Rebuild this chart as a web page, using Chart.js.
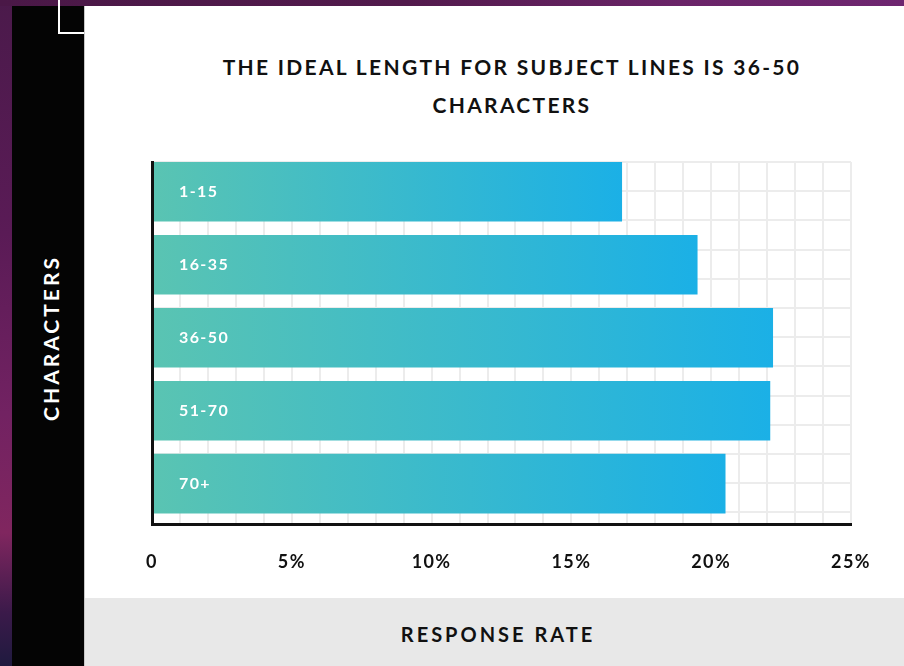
<!DOCTYPE html>
<html>
<head>
<meta charset="utf-8">
<title>Subject line length vs response rate</title>
<script src="https://cdn.jsdelivr.net/npm/chart.js@4.4.1/dist/chart.umd.min.js"></script>
<style>
  html, body { margin: 0; padding: 0; }
  body {
    width: 904px; height: 666px; overflow: hidden; position: relative;
    background: linear-gradient(180deg, #4b1a4b 0%, #5a1b56 35%, #722262 62%, #80265f 80%, #3b1a4a 92%, #1f1a3f 100%);
    font-family: Lato, "Noto Sans", sans-serif;
  }
  #topband {
    position: absolute; left: 0; top: 0; width: 904px; height: 6px;
    background: linear-gradient(90deg, #4a1847 0%, #521a4c 45%, #6a2468 75%, #6e2670 100%);
  }
  #strip { position: absolute; left: 12px; top: 6px; width: 72px; height: 660px; background: #040404; }
  #corner {
    position: absolute; left: 58px; top: -10px; width: 24px; height: 42px;
    border-left: 2px solid #fff; border-bottom: 2px solid #fff;
  }
  #card {
    position: absolute; left: 84px; top: 6px; width: 820px; height: 592px;
    background: #fff; border-left: 1px solid #c8c8c8; box-sizing: border-box;
  }
  #band {
    position: absolute; left: 84px; top: 598px; width: 820px; height: 68px;
    background: #e8e8e8; border-left: 1px solid #c8c8c8; box-sizing: border-box;
  }
  #title {
    position: absolute; left: 212px; top: 48px; width: 600px;
    text-align: center; font-weight: 700; font-size: 21px; line-height: 38px;
    letter-spacing: 2.3px; color: #111;
  }
  #ytitle {
    position: absolute; left: 49.5px; top: 338px;
    transform: translate(-50%, -50%) rotate(-90deg);
    white-space: nowrap; color: #fff; font-weight: 700; font-size: 21px;
    letter-spacing: 3px; line-height: 1;
  }
  #xtitle {
    position: absolute; left: 498px; top: 634px;
    transform: translate(-50%, -50%);
    white-space: nowrap; color: #111; font-weight: 700; font-size: 20px;
    letter-spacing: 3px; line-height: 1;
  }
  #chart { position: absolute; left: 0; top: 0; }
</style>
</head>
<body>
<div id="topband"></div>
<div id="strip"></div>
<div id="corner"></div>
<div id="card"></div>
<div id="band"></div>
<div id="title">THE IDEAL LENGTH FOR SUBJECT LINES IS 36-50<br>CHARACTERS</div>
<div id="ytitle">CHARACTERS</div>
<div id="xtitle">RESPONSE RATE</div>
<canvas id="chart" width="904" height="666"></canvas>
<script>
// Subject line length buckets and their response rates (%)
const categories = ['1-15', '16-35', '36-50', '51-70', '70+'];
const responseRates = [16.8, 19.5, 22.2, 22.1, 20.5];
// Percent values that carry a label on the response-rate axis
const labeledRates = [0, 5, 10, 15, 20, 25];

const barStart = '#5ac4b2';
const barEnd = '#1bb0e6';

// canvas text tracking, to echo the wide-set typeface
const tracking = {
  id: 'tracking',
  beforeDraw(chart) { chart.ctx.letterSpacing = '1.4px'; },
  afterDraw(chart) { chart.ctx.letterSpacing = '0px'; }
};

new Chart(document.getElementById('chart'), {
  type: 'bar',
  data: {
    datasets: [{
      label: 'Response rate',
      data: responseRates.map((v, i) => ({ x: v, y: i })),
      barThickness: 59,
      borderWidth: 0,
      backgroundColor(ctx) {
        const chart = ctx.chart;
        if (!chart.chartArea || !ctx.parsed) return barEnd;
        const xs = chart.scales.x;
        const x0 = xs.getPixelForValue(0);
        const x1 = xs.getPixelForValue(ctx.parsed.x);
        const g = chart.ctx.createLinearGradient(x0, 0, x1, 0);
        g.addColorStop(0, barStart);
        g.addColorStop(1, barEnd);
        return g;
      }
    }]
  },
  options: {
    indexAxis: 'y',
    responsive: false,
    animation: false,
    layout: { padding: { left: 152, right: 53, top: 162, bottom: 82 } },
    plugins: {
      legend: { display: false },
      tooltip: { enabled: false },
      title: { display: false }
    },
    scales: {
      x: {
        type: 'linear',
        min: 0,
        max: 25,
        afterFit(scale) { scale.height = 60; },
        grid: { color: '#ececec', lineWidth: 2, drawTicks: false },
        border: { display: true, color: '#111', width: 3, z: 1 },
        ticks: {
          stepSize: 1,
          autoSkip: false,
          maxRotation: 0,
          padding: 27,
          color: '#111',
          font: { family: 'Lato', weight: '700', size: 18 },
          callback: v => labeledRates.includes(v) ? (v === 0 ? '0' : v + '%') : ''
        }
      },
      y: {
        type: 'linear',
        position: 'left',
        reverse: true,
        offset: false,
        bounds: 'data',
        min: -0.407,
        max: 4.552,
        afterFit(scale) { scale.width = 0; },
        // one tick per length bucket, labelled inside its bar
        afterBuildTicks(scale) { scale.ticks = categories.map((_, i) => ({ value: i })); },
        grid: { display: false, offset: false },
        border: { display: true, color: '#111', width: 3, z: 1 },
        ticks: {
          autoSkip: false,
          mirror: true,
          padding: 27,
          z: 1,
          color: '#fff',
          font: { family: 'Lato', weight: '700', size: 16 },
          callback: v => categories[Math.round(v)] ?? ''
        }
      },
      yGrid: {
        type: 'linear',
        position: 'left',
        reverse: true,
        offset: false,
        bounds: 'data',
        min: 0,
        max: 12.4,
        afterFit(scale) { scale.width = 0; },
        afterBuildTicks(scale) {
          const t = [];
          for (let v = 0; v <= 12; v++) t.push({ value: v });
          scale.ticks = t;
        },
        grid: { color: '#ececec', lineWidth: 2, drawTicks: false, offset: false },
        border: { display: false },
        ticks: { display: false }
      }
    }
  },
  plugins: [tracking]
});
</script>
</body>
</html>
